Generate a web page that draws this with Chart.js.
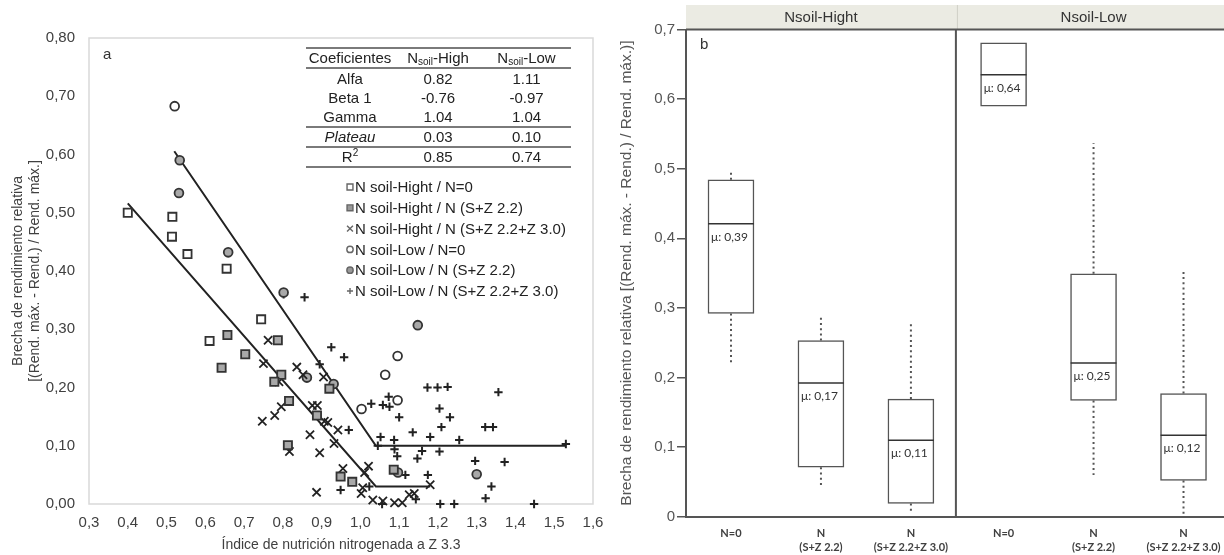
<!DOCTYPE html>
<html lang="es">
<head>
<meta charset="utf-8">
<title>Brecha de rendimiento relativa</title>
<script src="https://cdn.jsdelivr.net/npm/chart.js@4.4.1/dist/chart.umd.min.js"></script>
<style>
  html, body { margin: 0; padding: 0; background: #fff; }
  body { position: relative; width: 1224px; height: 555px; overflow: hidden; font-family: "Liberation Sans", Arial, sans-serif; }
  #panelA { position: absolute; left: 0; top: 0; }
  #panelB { position: absolute; left: 615px; top: 0; }
  #coeficientes { position: absolute; left: 306px; top: 47px; width: 265px; border-collapse: separate; border-spacing: 0; table-layout: fixed; font-size: 15px; color: #222; }
  #coeficientes th, #coeficientes td { padding: 0; text-align: center; font-weight: normal; white-space: nowrap; height: 19px; line-height: 19px; }
  #coeficientes th { height: 18px; line-height: 18px; border-top: 2px solid #7a7a7a; border-bottom: 2px solid #7a7a7a; }
  #coeficientes tr.sep td { height: 18px; line-height: 18px; border-top: 2px solid #7a7a7a; }
  #coeficientes tr.ultima td { border-bottom: 2px solid #7a7a7a; }
  #coeficientes sub { font-size: 10px; vertical-align: -2px; line-height: 0; }
  #coeficientes sup { font-size: 10px; vertical-align: 6px; line-height: 0; }
  #coeficientes .it { font-style: italic; }
</style>
</head>
<body>
<canvas id="panelA" width="615" height="555"></canvas>
<canvas id="panelB" width="609" height="555"></canvas>
<table id="coeficientes">
  <colgroup><col style="width:88px"><col style="width:88px"><col style="width:89px"></colgroup>
  <thead><tr><th>Coeficientes</th><th>N<sub>soil</sub>-High</th><th>N<sub>soil</sub>-Low</th></tr></thead>
  <tbody id="coefBody"></tbody>
</table>
<script>
// ===== Panel a: brecha de rendimiento vs. índice de nutrición nitrogenada =====

// [INN, brecha] por grupo
const highN0 = [
  [0.400, 0.500], [0.515, 0.493], [0.514, 0.459], [0.554, 0.429], [0.655, 0.404],
  [0.611, 0.280], [0.744, 0.317]
];
const highN22 = [
  [0.657, 0.290], [0.703, 0.257], [0.642, 0.234], [0.787, 0.281], [0.796, 0.222],
  [0.778, 0.210], [0.816, 0.177], [0.920, 0.198], [0.888, 0.152], [0.813, 0.101],
  [0.949, 0.047], [0.979, 0.038], [1.086, 0.059]
];
const highN30 = [
  [0.762, 0.281], [0.750, 0.241], [0.836, 0.235], [0.852, 0.222], [0.790, 0.210],
  [0.905, 0.218], [0.796, 0.167], [0.779, 0.152], [0.747, 0.142], [0.876, 0.169],
  [0.889, 0.169], [0.907, 0.142], [0.916, 0.140], [0.942, 0.127], [0.870, 0.119],
  [0.932, 0.104], [0.817, 0.090], [0.895, 0.088], [0.955, 0.061], [0.887, 0.020],
  [1.021, 0.065], [1.011, 0.054], [1.006, 0.028], [1.002, 0.018], [1.032, 0.007],
  [1.058, 0.005], [1.088, 0.002], [1.108, 0.002], [1.126, 0.016], [1.139, 0.018],
  [1.180, 0.033]
];
const lowN0 = [
  [0.521, 0.683], [1.096, 0.254], [1.064, 0.222], [1.096, 0.178], [1.003, 0.163]
];
const lowN22 = [
  [0.534, 0.590], [0.532, 0.534], [0.659, 0.432], [0.802, 0.363], [0.862, 0.217],
  [0.931, 0.206], [1.148, 0.307], [1.300, 0.051], [1.097, 0.054]
];
const lowN30 = [
  [0.802, 0.360], [0.856, 0.355], [0.925, 0.269], [0.958, 0.252], [0.895, 0.240],
  [0.970, 0.127], [0.949, 0.024], [1.028, 0.172], [1.058, 0.170], [1.073, 0.184],
  [1.075, 0.167], [1.100, 0.149], [1.173, 0.200], [1.199, 0.200], [1.225, 0.201],
  [1.356, 0.192], [1.204, 0.164], [1.231, 0.149], [1.209, 0.132], [1.322, 0.132],
  [1.342, 0.132], [1.135, 0.123], [1.052, 0.115], [1.180, 0.115], [1.045, 0.100],
  [1.087, 0.110], [1.255, 0.110], [1.530, 0.103], [1.088, 0.094], [1.159, 0.091],
  [1.204, 0.090], [1.095, 0.082], [1.147, 0.078], [1.296, 0.074], [1.372, 0.072],
  [1.116, 0.050], [1.174, 0.050], [1.338, 0.030], [1.323, 0.010], [1.206, 0.000],
  [1.242, 0.000], [1.448, 0.000], [1.023, 0.030], [1.056, 0.000], [1.143, 0.008]
];

// Coeficientes del modelo lineal-plateau
const coefNombres = ['Alfa', 'Beta 1', 'Gamma', 'Plateau', 'R2'];
const coefHigh = [0.82, -0.76, 1.04, 0.03, 0.85];
const coefLow = [1.11, -0.97, 1.04, 0.10, 0.74];
// rango de INN cubierto por cada ajuste
const rangoHigh = [0.40, 1.18];
const rangoLow = [0.52, 1.53];

const leyendaTextos = [
  'N soil-Hight / N=0',
  'N soil-Hight / N (S+Z 2.2)',
  'N soil-Hight / N (S+Z 2.2+Z 3.0)',
  'N soil-Low / N=0',
  'N soil-Low / N (S+Z 2.2)',
  'N soil-Low / N (S+Z 2.2+Z 3.0)'
];

// ===== Panel b: cajas por faceta =====
const facetas = ['Nsoil-Hight', 'Nsoil-Low'];
const tratamientos = [['N=0'], ['N', '(S+Z 2.2)'], ['N', '(S+Z 2.2+Z 3.0)']];
const cuartilInf = [0.292, 0.071, 0.019, 0.590, 0.167, 0.052];
const cuartilSup = [0.484, 0.253, 0.169, 0.681, 0.349, 0.177];
const medianas   = [0.421, 0.192, 0.110, 0.635, 0.221, 0.117];
const bigoteInf  = [0.218, 0.044, 0.005, null, 0.060, 0.000];
const bigoteSup  = [0.497, 0.290, 0.278, null, 0.537, 0.353];
const medias     = [0.39, 0.17, 0.11, 0.64, 0.25, 0.12];

const FUENTE = '"Liberation Sans", Arial, sans-serif';
Chart.defaults.font.family = FUENTE;

const comaDec = (v, d) => v.toFixed(d).replace('.', ',');
const aPuntos = arr => arr.map(p => ({ x: p[0], y: p[1] }));

// tabla de coeficientes
(function () {
  const body = document.getElementById('coefBody');
  coefNombres.forEach((nombre, i) => {
    const tr = document.createElement('tr');
    if (i >= 3) tr.className = 'sep';
    if (i === coefNombres.length - 1) tr.className += ' ultima';
    let etiqueta = nombre;
    if (nombre === 'Plateau') etiqueta = '<span class="it">Plateau</span>';
    if (nombre === 'R2') etiqueta = 'R<sup>2</sup>';
    tr.innerHTML = '<td>' + etiqueta + '</td><td>' + coefHigh[i].toFixed(2) + '</td><td>' + coefLow[i].toFixed(2) + '</td>';
    body.appendChild(tr);
  });
})();

// recta + plateau a partir de los coeficientes
function ajuste(coef, rango) {
  const [alfa, beta, gamma, plateau] = coef;
  return [
    { x: rango[0], y: alfa + beta * rango[0] },
    { x: gamma, y: plateau },
    { x: rango[1], y: plateau }
  ];
}

const estilos = [
  { pointStyle: 'rect', radius: 5.8, fondo: '#ffffff', borde: '#333333', ancho: 1.8 },
  { pointStyle: 'rect', radius: 5.8, fondo: '#a8a8a8', borde: '#333333', ancho: 1.8 },
  { pointStyle: 'crossRot', radius: 5.8, fondo: '#222222', borde: '#222222', ancho: 1.8 },
  { pointStyle: 'circle', radius: 4.4, fondo: '#ffffff', borde: '#333333', ancho: 1.8 },
  { pointStyle: 'circle', radius: 4.4, fondo: '#a8a8a8', borde: '#333333', ancho: 1.8 },
  { pointStyle: 'cross', radius: 4.2, fondo: '#222222', borde: '#222222', ancho: 2 }
];
const grupos = [highN0, highN22, highN30, lowN0, lowN22, lowN30];

const marcoA = {
  id: 'marcoA',
  beforeDatasetsDraw(chart) {
    const { ctx, chartArea: a } = chart;
    ctx.save();
    ctx.strokeStyle = '#d9d9d9';
    ctx.lineWidth = 1.5;
    ctx.strokeRect(a.left, a.top, a.right - a.left, a.bottom - a.top);
    ctx.fillStyle = '#333';
    ctx.font = '15px ' + FUENTE;
    ctx.textBaseline = 'middle';
    ctx.fillText('a', a.left + 14, a.top + 17);
    ctx.restore();
  },
  afterDraw(chart) {
    // leyenda dentro del área de trazado
    const ctx = chart.ctx;
    ctx.save();
    ctx.font = '15px ' + FUENTE;
    ctx.textBaseline = 'middle';
    leyendaTextos.forEach((txt, i) => {
      const y = 187 + i * 20.8;
      const e = estilos[i];
      ctx.fillStyle = e.fondo === '#222222' ? '#666' : (e.fondo === '#ffffff' ? '#fff' : '#999');
      ctx.strokeStyle = '#666';
      ctx.lineWidth = 1.4;
      Chart.helpers.drawPoint(ctx, { pointStyle: e.pointStyle, radius: e.radius * 0.72, rotation: 0, borderWidth: 1.4 }, 350, y);
      ctx.fillStyle = '#222';
      ctx.fillText(txt, 355, y + 1);
    });
    ctx.restore();
  }
};

const datasetsA = grupos.map((g, i) => ({
  label: leyendaTextos[i],
  data: aPuntos(g),
  pointStyle: estilos[i].pointStyle,
  pointRadius: estilos[i].radius,
  pointBackgroundColor: estilos[i].fondo,
  pointBorderColor: estilos[i].borde,
  pointBorderWidth: estilos[i].ancho,
  clip: false
}));
datasetsA.push(
  { label: 'Ajuste N soil-High', data: ajuste(coefHigh, rangoHigh), showLine: true, pointRadius: 0, borderColor: '#222', borderWidth: 2 },
  { label: 'Ajuste N soil-Low', data: ajuste(coefLow, rangoLow), showLine: true, pointRadius: 0, borderColor: '#222', borderWidth: 2 }
);

new Chart(document.getElementById('panelA'), {
  type: 'scatter',
  data: { datasets: datasetsA },
  options: {
    responsive: false,
    animation: false,
    events: [],
    layout: { padding: { top: 38, right: 22, left: 0, bottom: 0 } },
    plugins: { legend: { display: false }, tooltip: { enabled: false } },
    scales: {
      x: {
        type: 'linear', min: 0.3, max: 1.6,
        grid: { display: false }, border: { display: false },
        ticks: { stepSize: 0.1, padding: 2, color: '#404040', font: { size: 15 }, callback: v => comaDec(v, 1) },
        title: { display: true, text: 'Índice de nutrición nitrogenada a Z 3.3', color: '#404040', font: { size: 14 }, padding: { top: 0, bottom: 1 } },
        afterFit: s => { s.height = 51; }
      },
      y: {
        type: 'linear', min: 0, max: 0.8,
        grid: { display: false }, border: { display: false },
        ticks: { stepSize: 0.1, padding: 6, color: '#404040', font: { size: 15 }, callback: v => comaDec(v, 2) },
        title: {
          display: true,
          text: ['Brecha de rendimiento relativa', '[(Rend. máx. - Rend.) / Rend. máx.]'],
          color: '#404040', font: { size: 14 }, padding: { top: 10, bottom: 0 }
        },
        afterFit: s => { s.width = 89; }
      }
    }
  },
  plugins: [marcoA]
});

// ===== Panel b =====
const ANCHO_CAJA = 0.51;            // en unidades del eje x
const posiciones = [];
facetas.forEach((f, fi) => tratamientos.forEach((t, ti) => posiciones.push(fi * 3 + ti + 0.5 + fi * 0.03)));

const medianaPts = [];
const bigotePts = [];
posiciones.forEach((x, i) => {
  medianaPts.push({ x: x - ANCHO_CAJA / 2, y: medianas[i] }, { x: x + ANCHO_CAJA / 2, y: medianas[i] }, { x: x, y: null });
  if (bigoteSup[i] !== null) bigotePts.push({ x: x, y: cuartilSup[i] }, { x: x, y: bigoteSup[i] }, { x: x, y: null });
  if (bigoteInf[i] !== null) bigotePts.push({ x: x, y: cuartilInf[i] }, { x: x, y: bigoteInf[i] }, { x: x, y: null });
});

const facetaPlugin = {
  id: 'facetas',
  beforeDraw(chart) {
    const { ctx, chartArea: a, scales: { x } } = chart;
    const tope = 5;
    ctx.save();
    ctx.fillStyle = '#ebebe3';
    ctx.fillRect(a.left, tope, chart.width - a.left, a.top - tope);
    const xd = x.getPixelForValue(3);
    ctx.strokeStyle = '#cfcfc6';
    ctx.lineWidth = 1;
    ctx.beginPath();
    ctx.moveTo(xd + 1.5, tope);
    ctx.lineTo(xd + 1.5, a.top);
    ctx.stroke();
    ctx.fillStyle = '#333';
    ctx.font = '15px ' + FUENTE;
    ctx.textAlign = 'center';
    ctx.textBaseline = 'middle';
    facetas.forEach((f, i) => ctx.fillText(f, x.getPixelForValue(i * 3 + 1.5 + i * 0.03), (tope + a.top) / 2 + 1));
    ctx.restore();
  },
  afterDatasetsDraw(chart) {
    const { ctx, chartArea: a, scales: { x, y } } = chart;
    ctx.save();
    ctx.strokeStyle = '#555';
    ctx.lineWidth = 2;
    ctx.beginPath();
    ctx.moveTo(a.left, a.top);
    ctx.lineTo(chart.width, a.top);
    const xd = x.getPixelForValue(3);
    ctx.moveTo(xd, a.top);
    ctx.lineTo(xd, a.bottom);
    ctx.stroke();

    // medias escritas bajo la mediana
    ctx.fillStyle = '#333';
    ctx.font = '12px Lato, ' + FUENTE;
    ctx.textBaseline = 'top';
    posiciones.forEach((p, i) => {
      const xl = x.getPixelForValue(p - ANCHO_CAJA / 2) + 3;
      const ym = y.getPixelForValue(medianas[i]) + 7;
      ctx.fillText('μ: ' + comaDec(medias[i], 2), xl, ym);
    });

    ctx.font = '15px ' + FUENTE;
    ctx.textBaseline = 'middle';
    ctx.fillText('b', a.left + 14, a.top + 15);
    ctx.restore();
  }
};

new Chart(document.getElementById('panelB'), {
  type: 'bar',
  data: {
    datasets: [
      { type: 'line', label: 'Mediana', data: medianaPts, borderColor: '#333', borderWidth: 1.5, pointRadius: 0, spanGaps: false },
      { label: 'Caja', data: posiciones.map((p, i) => ({ x: p, y: [cuartilInf[i], cuartilSup[i]] })),
        backgroundColor: '#fff', borderColor: '#555', borderWidth: 1.5, borderSkipped: false, barThickness: 46 },
      { type: 'line', label: 'Bigotes', data: bigotePts, borderColor: '#555', borderWidth: 2, borderDash: [2, 3.2], pointRadius: 0, spanGaps: false }
    ]
  },
  options: {
    responsive: false,
    animation: false,
    events: [],
    layout: { padding: { top: 29.5, right: 0, left: 0, bottom: 0 } },
    plugins: { legend: { display: false }, tooltip: { enabled: false } },
    scales: {
      x: {
        type: 'linear', min: 0, max: 5.98, offset: false,
        grid: { display: false },
        border: { display: true, color: '#555', width: 2 },
        afterBuildTicks: s => { s.ticks = posiciones.map(v => ({ value: v })); },
        ticks: {
          autoSkip: false, maxRotation: 0, padding: 2, color: '#404040',
          font: { family: 'Lato, ' + FUENTE, size: 11, weight: 'bold', lineHeight: 1.25 },
          callback: (v, i) => tratamientos[i % 3]
        },
        afterFit: s => { s.height = 38.3; }
      },
      y: {
        type: 'linear', min: 0, max: 0.7,
        grid: { display: true, drawOnChartArea: false, drawTicks: true, tickLength: 9, color: '#555', lineWidth: 1.5 },
        border: { display: true, color: '#555', width: 2 },
        ticks: { stepSize: 0.1, padding: 2, color: '#555', font: { size: 15 }, callback: v => (v === 0 ? '0' : comaDec(v, 1)) },
        title: {
          display: true,
          text: 'Brecha de rendimiento relativa [(Rend. máx. - Rend.) / Rend. máx.)]',
          color: '#555', font: { size: 15.5 }, padding: { top: 2, bottom: 0 }
        },
        afterFit: s => { s.width = 71; }
      }
    }
  },
  plugins: [facetaPlugin]
});
</script>
</body>
</html>
